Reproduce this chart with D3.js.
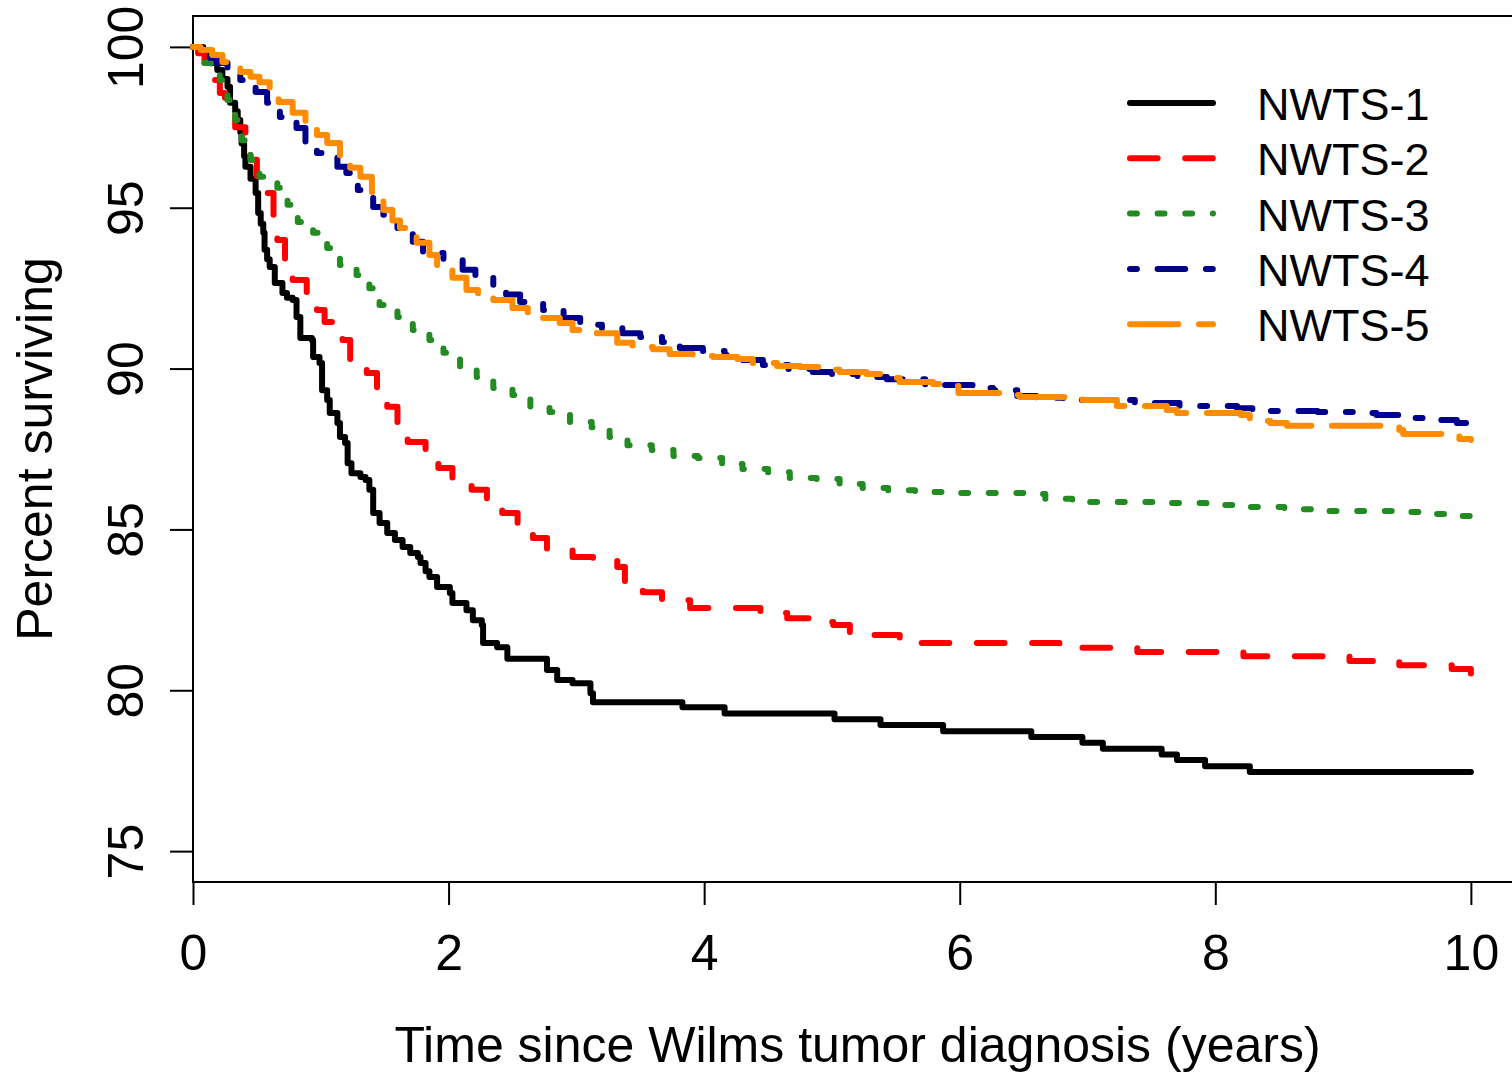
<!DOCTYPE html>
<html>
<head>
<meta charset="utf-8">
<script src="https://cdn.jsdelivr.net/npm/d3@7"></script>
<style>
  html, body { margin: 0; padding: 0; background: #ffffff; }
  svg { display: block; }
  text { font-family: "Liberation Sans", Arial, sans-serif; fill: #000; }
</style>
</head>
<body>
<svg id="chart" width="1512" height="1075"></svg>
<script>
// Kaplan–Meier survival estimates by study: [years since diagnosis, percent surviving]
const nwts1 = [[0,100],[0.08,99.8],[0.14,99.5],[0.19,99.28],[0.23,99.0],[0.27,98.76],[0.29,98.26],[0.33,98.0],[0.35,97.73],[0.37,97.35],[0.38,97.0],[0.40,96.6],[0.41,96.27],[0.45,95.9],[0.49,95.46],[0.51,94.84],[0.53,94.5],[0.55,94.22],[0.56,93.69],[0.58,93.4],[0.60,93.16],[0.64,92.66],[0.70,92.35],[0.735,92.2],[0.78,92.13],[0.81,91.6],[0.84,90.95],[0.93,90.89],[0.94,90.36],[0.99,90.17],[1.01,89.33],[1.05,89.02],[1.07,88.62],[1.13,88.31],[1.15,87.87],[1.19,87.69],[1.21,87.06],[1.24,86.75],[1.31,86.63],[1.35,86.54],[1.38,86.23],[1.41,85.51],[1.46,85.2],[1.52,84.89],[1.58,84.67],[1.64,84.45],[1.70,84.27],[1.76,84.14],[1.78,83.96],[1.82,83.7],[1.85,83.52],[1.91,83.21],[2.01,83.02],[2.03,82.71],[2.14,82.49],[2.19,82.18],[2.26,82.03],[2.27,81.47],[2.38,81.34],[2.46,80.98],[2.77,80.63],[2.85,80.32],[2.97,80.22],[3.11,79.91],[3.13,79.63],[3.83,79.47],[4.16,79.28],[5.02,79.10],[5.38,78.92],[5.87,78.73],[6.56,78.55],[6.96,78.37],[7.12,78.18],[7.58,78.0],[7.70,77.83],[7.92,77.64],[8.27,77.46],[10,77.46]];

const nwts2 = [[0,100],[0.04,99.8],[0.09,99.5],[0.13,99.2],[0.17,98.97],[0.21,98.57],[0.25,98.35],[0.29,97.9],[0.33,97.5],[0.41,97.26],[0.45,96.49],[0.50,95.96],[0.54,95.7],[0.58,95.46],[0.63,94.71],[0.66,94.0],[0.72,93.38],[0.78,92.75],[0.89,92.35],[0.97,91.82],[1.03,91.45],[1.10,91.42],[1.17,90.89],[1.23,90.27],[1.36,89.86],[1.44,89.27],[1.52,88.81],[1.60,88.34],[1.68,87.72],[1.82,87.41],[1.92,86.91],[2.03,86.54],[2.18,86.23],[2.30,85.91],[2.42,85.51],[2.54,85.14],[2.66,84.73],[2.77,84.36],[2.97,84.14],[3.13,84.05],[3.32,83.83],[3.38,83.33],[3.52,83.05],[3.67,82.8],[3.89,82.56],[4.44,82.4],[4.65,82.24],[4.83,82.12],[5.01,82.03],[5.14,81.72],[5.53,81.47],[6.78,81.32],[7.39,81.19],[8.22,81.06],[9.05,80.91],[9.44,80.78],[9.85,80.66],[10,80.47]];

const nwts3 = [[0,100],[0.05,99.75],[0.08,99.5],[0.14,99.2],[0.21,98.97],[0.24,98.6],[0.27,98.35],[0.30,98.0],[0.33,97.73],[0.36,97.4],[0.38,97.1],[0.42,96.8],[0.45,96.49],[0.48,96.2],[0.52,95.96],[0.66,95.62],[0.74,95.09],[0.82,94.56],[0.94,94.22],[1.05,93.75],[1.15,93.22],[1.28,92.91],[1.38,92.5],[1.46,91.98],[1.60,91.6],[1.72,91.2],[1.85,90.89],[1.96,90.49],[2.09,90.05],[2.22,89.74],[2.35,89.4],[2.50,89.18],[2.64,88.81],[2.79,88.65],[2.95,88.34],[3.12,88.18],[3.26,87.87],[3.40,87.62],[3.59,87.47],[3.76,87.28],[3.95,87.22],[4.14,87.03],[4.30,86.88],[4.50,86.78],[4.67,86.60],[4.88,86.57],[5.06,86.41],[5.24,86.29],[5.44,86.22],[5.65,86.16],[5.86,86.13],[6.50,86.1],[6.67,85.95],[6.88,85.85],[7.51,85.82],[7.93,85.76],[8.14,85.70],[8.54,85.63],[8.76,85.57],[9.39,85.54],[9.59,85.48],[9.80,85.42],[10,85.42]];

const nwts4 = [[0,100],[0.05,99.85],[0.13,99.66],[0.19,99.5],[0.27,99.28],[0.37,98.97],[0.49,98.6],[0.58,98.26],[0.68,97.82],[0.81,97.48],[0.88,97.01],[0.97,96.7],[1.13,96.27],[1.20,96.08],[1.29,95.55],[1.41,95.02],[1.49,94.78],[1.60,94.37],[1.72,93.94],[1.80,93.59],[1.96,93.38],[2.11,93.07],[2.21,92.85],[2.35,92.5],[2.45,92.3],[2.56,92.07],[2.74,91.82],[2.90,91.57],[3.03,91.36],[3.20,91.26],[3.36,91.1],[3.50,90.98],[3.67,90.83],[3.81,90.64],[3.99,90.55],[4.16,90.42],[4.28,90.27],[4.46,90.11],[4.66,89.99],[4.85,89.89],[5.0,89.83],[5.2,89.74],[5.43,89.67],[5.73,89.49],[6.1,89.4],[6.26,89.33],[6.45,89.15],[6.60,89.09],[6.81,89.02],[7.37,88.93],[7.72,88.84],[8.17,88.77],[8.29,88.68],[8.8,88.65],[9.08,88.62],[9.26,88.56],[9.44,88.46],[9.63,88.40],[9.89,88.31],[10,88.31]];

const nwts5 = [[0,100],[0.06,99.9],[0.15,99.75],[0.23,99.53],[0.37,99.22],[0.45,99.07],[0.52,98.9],[0.60,98.72],[0.67,98.29],[0.78,97.95],[0.88,97.64],[0.97,97.26],[1.05,97.01],[1.15,96.58],[1.23,96.24],[1.31,95.96],[1.40,95.49],[1.49,94.93],[1.56,94.6],[1.62,94.37],[1.75,93.91],[1.85,93.53],[1.91,93.22],[2.03,92.82],[2.14,92.44],[2.23,92.29],[2.35,92.13],[2.50,91.88],[2.62,91.75],[2.74,91.57],[2.87,91.42],[2.97,91.2],[3.16,91.1],[3.32,90.8],[3.44,90.67],[3.60,90.6],[3.73,90.45],[3.91,90.39],[4.07,90.36],[4.26,90.3],[4.38,90.17],[4.57,90.08],[4.75,90.05],[4.91,89.96],[5.06,89.89],[5.27,89.83],[5.38,89.71],[5.53,89.58],[5.79,89.52],[5.87,89.46],[5.99,89.24],[6.34,89.18],[6.47,89.12],[6.96,89.02],[7.23,88.84],[7.62,88.71],[7.70,88.62],[8.2,88.56],[8.27,88.37],[8.43,88.31],[8.56,88.22],[9.31,88.18],[9.44,88.09],[9.47,87.97],[9.91,87.81],[10,87.78]];

const seriesNames = ["NWTS-1", "NWTS-2", "NWTS-3", "NWTS-4", "NWTS-5"];
const seriesColors = ["#000000", "#ff0000", "#228b22", "#00008b", "#ff8c00"];
// R-style line types (solid, dashed, dotted, dotdash, longdash) at this line width
const seriesDashes = [null, "27.6,27.6", "6.9,20.7", "6.9,20.7,27.6,20.7", "48.3,20.7"];
const xTicks = [0, 2, 4, 6, 8, 10];
const yTicks = [75, 80, 85, 90, 95, 100];

const allSeries = [nwts1, nwts2, nwts3, nwts4, nwts5];

const svg = d3.select("#chart");
const plot = { left: 193, top: 16, right: 1522, bottom: 882 };

const x = d3.scaleLinear().domain([0, 10.4]).range([plot.left, plot.right]);
const y = d3.scaleLinear().domain([74.04, 100.96]).range([plot.bottom, plot.top]);

// plot frame
svg.append("rect")
  .attr("x", plot.left).attr("y", plot.top)
  .attr("width", plot.right - plot.left).attr("height", plot.bottom - plot.top)
  .attr("fill", "none").attr("stroke", "#000").attr("stroke-width", 2);

// axes
const xAxis = svg.append("g")
  .attr("transform", `translate(0,${plot.bottom})`)
  .call(d3.axisBottom(x).tickValues(xTicks).tickFormat(d3.format("d")).tickSize(23).tickSizeOuter(0));
xAxis.select(".domain").remove();
xAxis.selectAll(".tick line").attr("stroke", "#000").attr("stroke-width", 2);
xAxis.selectAll(".tick text")
  .attr("y", 88).attr("dy", 0)
  .style("font-size", "50px").attr("fill", "#000");

const yAxis = svg.append("g")
  .attr("transform", `translate(${plot.left},0)`)
  .call(d3.axisLeft(y).tickValues(yTicks).tickFormat(d3.format("d")).tickSize(23).tickSizeOuter(0));
yAxis.select(".domain").remove();
yAxis.selectAll(".tick line").attr("stroke", "#000").attr("stroke-width", 2);
yAxis.selectAll(".tick text")
  .attr("x", 0).attr("dy", 0)
  .attr("transform", "translate(-50,0) rotate(-90)")
  .attr("text-anchor", "middle")
  .style("font-size", "50px").attr("fill", "#000");

// axis titles
svg.append("text")
  .attr("x", (plot.left + plot.right) / 2).attr("y", 1062)
  .attr("text-anchor", "middle").style("font-size", "50px")
  .text("Time since Wilms tumor diagnosis (years)");

svg.append("text")
  .attr("transform", `translate(52,${(plot.top + plot.bottom) / 2}) rotate(-90)`)
  .attr("text-anchor", "middle").style("font-size", "50px")
  .text("Percent surviving");

// survival curves, drawn as right-continuous step functions
const line = d3.line()
  .x(d => x(d[0]))
  .y(d => y(d[1]))
  .curve(d3.curveStepAfter);

allSeries.forEach((data, i) => {
  svg.append("path")
    .datum(data)
    .attr("d", line)
    .attr("fill", "none")
    .attr("stroke", seriesColors[i])
    .attr("stroke-width", 6)
    .attr("stroke-linecap", "round")
    .attr("stroke-linejoin", "round")
    .attr("stroke-dasharray", seriesDashes[i]);
});

// legend
const legend = svg.append("g").attr("transform", "translate(1130,103)");
seriesNames.forEach((name, i) => {
  const row = legend.append("g").attr("transform", `translate(0,${i * 55.3})`);
  row.append("line")
    .attr("x1", 0).attr("x2", 83).attr("y1", 0).attr("y2", 0)
    .attr("stroke", seriesColors[i])
    .attr("stroke-width", 6)
    .attr("stroke-linecap", "round")
    .attr("stroke-dasharray", seriesDashes[i]);
  row.append("text")
    .attr("x", 127).attr("y", 17)
    .style("font-size", "45px")
    .text(name);
});
</script>
</body>
</html>
